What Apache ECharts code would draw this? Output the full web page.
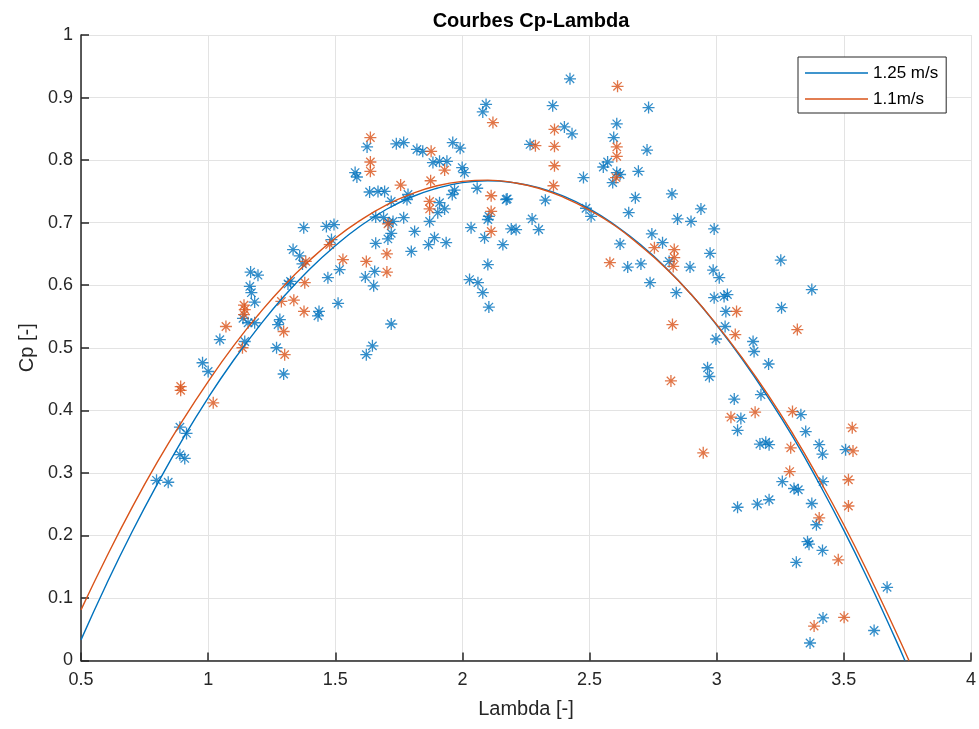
<!DOCTYPE html>
<html>
<head>
<meta charset="utf-8">
<script src="https://cdn.jsdelivr.net/npm/echarts@6/dist/echarts.min.js"></script>
<style>
html,body{margin:0;padding:0;background:#fff;}
#chart{width:979px;height:729px;}
</style>
</head>
<body>
<div id="chart"></div>
<script>
// ---- data ----
const titleText = 'Courbes Cp-Lambda';
const xName = 'Lambda [-]';
const yName = 'Cp [-]';
const legendNames = ['1.25 m/s', '1.1m/s'];

// fitted curves (lambda, Cp)
const curve125 = [
  [0.5,0.033],[0.6,0.122],[0.7,0.205],[0.8,0.282],[0.9,0.354],[1.0,0.420],[1.1,0.480],[1.2,0.534],
  [1.3,0.583],[1.4,0.626],[1.5,0.663],[1.6,0.695],[1.7,0.721],[1.8,0.741],[1.9,0.755],[2.0,0.764],
  [2.1,0.767],[2.2,0.764],[2.3,0.756],[2.4,0.742],[2.5,0.722],[2.6,0.696],[2.7,0.665],[2.8,0.628],
  [2.9,0.585],[3.0,0.536],[3.1,0.482],[3.2,0.422],[3.3,0.357],[3.4,0.285],[3.5,0.208],[3.6,0.125],
  [3.7,0.037],[3.74,0.0]
];
const curve11 = [
  [0.5,0.081],[0.6,0.165],[0.7,0.244],[0.8,0.317],[0.9,0.384],[1.0,0.446],[1.1,0.503],[1.2,0.554],
  [1.3,0.600],[1.4,0.640],[1.5,0.675],[1.6,0.704],[1.7,0.728],[1.8,0.746],[1.9,0.759],[2.0,0.766],
  [2.1,0.768],[2.2,0.764],[2.3,0.755],[2.4,0.740],[2.5,0.720],[2.6,0.695],[2.7,0.663],[2.8,0.627],
  [2.9,0.585],[3.0,0.537],[3.1,0.484],[3.2,0.426],[3.3,0.362],[3.4,0.292],[3.5,0.217],[3.6,0.136],
  [3.7,0.050],[3.756,0.0]
];

// measured points, 1.25 m/s (blue)
const points125 = [
  [0.797,0.288],[0.843,0.285],[0.889,0.373],[0.915,0.363],[0.889,0.329],[0.908,0.323],
  [0.978,0.476],[1.000,0.462],[1.046,0.513],[1.144,0.510],[1.269,0.500],[1.297,0.458],
  [1.622,0.489],[1.646,0.503],
  [1.376,0.692],[1.465,0.694],[1.495,0.697],[1.485,0.673],[1.334,0.657],[1.360,0.647],[1.371,0.634],
  [1.517,0.625],[1.471,0.612],[1.324,0.606],[1.314,0.602],[1.511,0.571],
  [1.167,0.621],[1.196,0.616],[1.164,0.598],[1.170,0.588],[1.183,0.573],[1.137,0.547],[1.157,0.540],[1.183,0.540],
  [1.436,0.558],[1.432,0.551],[1.282,0.545],[1.275,0.537],
  [1.618,0.613],[1.655,0.622],[1.651,0.599],[1.659,0.667],[1.659,0.709],[1.635,0.749],[1.668,0.750],
  [1.578,0.780],[1.585,0.773],[1.625,0.821],
  [1.740,0.826],[1.769,0.828],[1.821,0.817],[1.844,0.814],[1.962,0.828],[1.991,0.819],
  [1.884,0.796],[1.910,0.798],[1.939,0.798],[1.999,0.788],[2.008,0.780],
  [1.694,0.750],[1.786,0.745],[1.782,0.737],[1.720,0.734],[1.969,0.752],[1.960,0.745],[2.058,0.755],
  [1.910,0.732],[1.930,0.722],[1.903,0.716],[1.871,0.702],[1.769,0.708],[1.690,0.708],[1.727,0.702],[1.711,0.700],
  [1.720,0.683],[1.707,0.674],[1.812,0.686],[1.890,0.676],[1.867,0.665],[1.936,0.668],[1.799,0.654],
  [1.720,0.538],
  [2.034,0.692],[2.100,0.705],[2.104,0.710],[2.087,0.676],[2.159,0.665],[2.172,0.737],[2.100,0.633],
  [2.028,0.609],[2.061,0.604],[2.080,0.588],[2.104,0.565],
  [2.423,0.930],[2.732,0.884],[2.355,0.887],[2.093,0.889],[2.080,0.877],[2.401,0.853],[2.431,0.842],
  [2.266,0.825],[2.607,0.858],[2.595,0.836],[2.726,0.816],[2.554,0.789],[2.571,0.797],[2.607,0.780],[2.620,0.777],[2.591,0.764],
  [2.692,0.782],[2.476,0.772],[2.326,0.736],[2.274,0.706],[2.300,0.689],[2.176,0.738],
  [2.192,0.690],[2.211,0.689],[2.486,0.723],[2.506,0.710],[2.680,0.740],[2.654,0.716],[2.824,0.746],[2.846,0.706],
  [2.745,0.682],[2.787,0.668],[2.620,0.666],[2.813,0.638],[2.650,0.629],[2.702,0.634],[2.738,0.604],[2.841,0.588],
  [2.938,0.722],[2.899,0.702],[2.990,0.690],
  [2.895,0.629],[2.974,0.651],[2.986,0.624],[3.010,0.612],[3.252,0.640],[3.374,0.593],
  [2.990,0.580],[3.029,0.582],[3.042,0.585],[3.036,0.558],[3.255,0.564],
  [3.033,0.534],[2.997,0.514],[3.143,0.510],[3.147,0.494],[3.204,0.474],[2.964,0.468],[2.971,0.454],[3.069,0.418],[3.174,0.425],
  [3.095,0.387],[3.082,0.368],[3.331,0.393],[3.350,0.366],[3.403,0.345],[3.416,0.330],[3.507,0.337],
  [3.170,0.346],[3.193,0.349],[3.206,0.345],[3.258,0.286],[3.304,0.275],[3.321,0.273],[3.418,0.286],
  [3.082,0.245],[3.160,0.250],[3.206,0.257],[3.374,0.251],[3.392,0.217],[3.357,0.190],[3.363,0.186],[3.416,0.176],[3.313,0.157],
  [3.418,0.068],[3.367,0.028],[3.619,0.048],[3.670,0.117]
];

// measured points, 1.1 m/s (orange)
const points11 = [
  [0.892,0.438],[0.892,0.432],[1.020,0.412],[1.135,0.500],[1.301,0.489],
  [1.478,0.665],[1.384,0.638],[1.380,0.604],[1.141,0.568],[1.144,0.561],[1.141,0.553],[1.070,0.534],
  [1.288,0.574],[1.337,0.576],[1.377,0.558],[1.297,0.526],
  [1.530,0.641],[1.622,0.638],[1.638,0.836],[1.638,0.797],[1.638,0.782],
  [1.877,0.814],[1.930,0.784],[2.120,0.860],[1.875,0.767],[1.757,0.760],[1.871,0.734],[1.871,0.722],
  [1.707,0.698],[1.703,0.650],[1.703,0.621],
  [2.113,0.743],[2.113,0.718],[2.113,0.686],
  [2.610,0.918],[2.362,0.849],[2.362,0.822],[2.362,0.791],[2.358,0.759],[2.287,0.823],[2.607,0.821],[2.607,0.806],[2.604,0.772],
  [2.755,0.660],[2.833,0.657],[2.833,0.644],[2.829,0.630],[2.580,0.636],[2.826,0.537],[2.820,0.447],
  [3.078,0.558],[3.317,0.529],[3.073,0.521],[2.947,0.332],
  [3.056,0.389],[3.151,0.397],[3.298,0.398],[3.533,0.372],[3.536,0.335],[3.291,0.340],[3.287,0.302],[3.518,0.289],[3.518,0.247],
  [3.403,0.228],[3.478,0.161],[3.383,0.055],[3.501,0.069]
];

// ---- styling ----
const BLUE = '#0072BD';
const ORANGE = '#D95319';
const AXIS = '#262626';
const GRIDC = '#e3e3e3';
const FONT = 'Liberation Sans, Arial, Helvetica, sans-serif';
const STAR = 'path://M5,0L5,10M0,5L10,5M1.5,1.5L8.5,8.5M1.5,8.5L8.5,1.5';

const chart = echarts.init(document.getElementById('chart'), null, {renderer: 'canvas'});
chart.setOption({
  animation: false,
  backgroundColor: '#ffffff',
  title: {
    text: titleText,
    left: 526,
    top: 6,
    textAlign: 'center',
    textStyle: {fontFamily: FONT, fontSize: 20, fontWeight: 'bold', color: '#000'}
  },
  legend: {
    data: legendNames.map(function (n) { return {name: n, icon: 'rect'}; }),
    orient: 'vertical',
    left: 798,
    top: 57,
    padding: [6, 8, 4, 7],
    itemWidth: 63,
    itemHeight: 1.4,
    itemGap: 6,
    backgroundColor: '#ffffff',
    borderColor: AXIS,
    borderWidth: 1,
    borderRadius: 0,
    textStyle: {fontFamily: FONT, fontSize: 17, color: '#000', lineHeight: 20, height: 20}
  },
  grid: {left: 81, right: 7, top: 35, bottom: 68.5, containLabel: false},
  xAxis: {
    type: 'value', min: 0.5, max: 4, interval: 0.5,
    name: xName, nameLocation: 'middle', nameGap: 39,
    nameTextStyle: {fontFamily: FONT, fontSize: 20, color: AXIS},
    axisLine: {show: true, onZero: false, lineStyle: {color: AXIS, width: 1.5}},
    axisTick: {show: true, inside: true, length: 8, lineStyle: {color: AXIS, width: 1.5}},
    axisLabel: {fontFamily: FONT, fontSize: 18, color: AXIS, margin: 11},
    splitLine: {show: true, lineStyle: {color: GRIDC, width: 1}}
  },
  yAxis: {
    type: 'value', min: 0, max: 1, interval: 0.1,
    name: yName, nameLocation: 'middle', nameGap: 40, nameRotate: 90,
    nameTextStyle: {fontFamily: FONT, fontSize: 20, color: AXIS},
    axisLine: {show: true, onZero: false, lineStyle: {color: AXIS, width: 1.5}},
    axisTick: {show: true, inside: true, length: 8, lineStyle: {color: AXIS, width: 1.5}},
    axisLabel: {fontFamily: FONT, fontSize: 18, color: AXIS, margin: 8},
    splitLine: {show: true, lineStyle: {color: GRIDC, width: 1}}
  },
  series: [
    {
      name: 'pts125', type: 'scatter', data: points125, symbol: STAR, symbolSize: 12,
      itemStyle: {color: 'rgba(0,0,0,0)', borderColor: BLUE, borderWidth: 1.3}, z: 2
    },
    {
      name: 'pts11', type: 'scatter', data: points11, symbol: STAR, symbolSize: 12,
      itemStyle: {color: 'rgba(0,0,0,0)', borderColor: ORANGE, borderWidth: 1.3}, z: 2
    },
    {
      name: legendNames[0], type: 'line', data: curve125, smooth: true, symbol: 'none', showSymbol: false,
      lineStyle: {color: BLUE, width: 1.4}, itemStyle: {color: BLUE}, z: 3
    },
    {
      name: legendNames[1], type: 'line', data: curve11, smooth: true, symbol: 'none', showSymbol: false,
      lineStyle: {color: ORANGE, width: 1.4}, itemStyle: {color: ORANGE}, z: 3
    }
  ]
});
</script>
</body>
</html>
